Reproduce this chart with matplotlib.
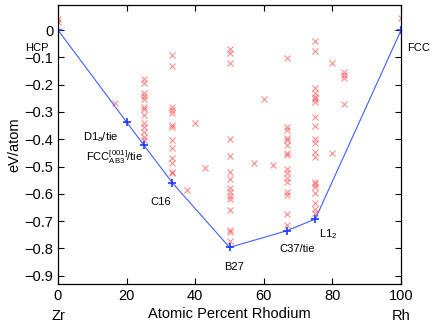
import matplotlib
matplotlib.use('Agg')
import matplotlib.pyplot as plt
import numpy as np

plt.rcParams['font.family'] = ['Liberation Sans', 'DejaVu Sans']

# all computed structures (red x)
x_all = ([0, 0, 16.7] +
         [25] * 13 +
         [33.3] * 13 +
         [37.5, 40, 42.9] +
         [50] * 15 +
         [57.2, 60, 62.6] +
         [66.7] * 16 +
         [75] * 20 +
         [80, 80] +
         [83.3] * 4 +
         [100])
e_all = ([0.040, 0.030, -0.266] +
         [-0.181, -0.193, -0.232, -0.242, -0.254, -0.281, -0.290, -0.311,
          -0.342, -0.354, -0.372, -0.391, -0.403] +
         [-0.092, -0.132, -0.281, -0.293, -0.305, -0.348, -0.354, -0.403,
          -0.433, -0.470, -0.486, -0.519, -0.525] +
         [-0.586, -0.340, -0.507] +
         [-0.071, -0.083, -0.122, -0.400, -0.462, -0.519, -0.545, -0.580,
          -0.592, -0.606, -0.620, -0.659, -0.733, -0.740, -0.772] +
         [-0.486, -0.254, -0.495] +
         [-0.104, -0.354, -0.366, -0.394, -0.403, -0.421, -0.452, -0.458,
          -0.510, -0.525, -0.543, -0.556, -0.592, -0.604, -0.674, -0.714] +
         [-0.039, -0.076, -0.214, -0.232, -0.244, -0.254, -0.263, -0.320,
          -0.352, -0.400, -0.412, -0.445, -0.464, -0.556, -0.564, -0.574,
          -0.596, -0.635, -0.656, -0.671] +
         [-0.120, -0.449] +
         [-0.153, -0.165, -0.177, -0.271] +
         [0.043])

# convex hull (blue)
x_hull = [0, 20, 25, 33.3, 50, 66.7, 75, 100]
e_hull = [0, -0.337, -0.421, -0.559, -0.796, -0.735, -0.692, 0]

# labels
lab_text = ['HCP', 'D1$_\\mathregular{a}$/tie', 'FCC$^{\\mathregular{[001]}}_{\\mathregular{AB3}}$/tie',
            'C16', 'B27', 'C37/tie', 'L1$_\\mathregular{2}$', 'FCC']
lab_x = [-9.5, 7.3, 8.3, 26.8, 48.4, 64.4, 76, 101.7]
lab_y = [-0.066, -0.392, -0.465, -0.629, -0.867, -0.802, -0.747, -0.067]

fig = plt.figure(figsize=(4.36, 3.24), dpi=100)
ax = fig.add_axes([0.133, 0.1235, 0.787, 0.861])

ax.plot(x_all, e_all, 'x', color='#ff3030', alpha=0.55, ms=4.5, mew=0.8)
ax.plot(x_hull, e_hull, '-', color='#4060ff', lw=0.8)
ax.plot(x_hull, e_hull, '+', color='#1a3aff', ms=6, mew=1.2)

for t, xx, yy in zip(lab_text, lab_x, lab_y):
    ax.text(xx, yy, t, fontsize=8, ha='left', va='center', clip_on=False)

ax.set_xlim(0, 100)
ax.set_ylim(-0.93, 0.0916)
ax.set_xticks(np.arange(0, 101, 20))
ax.set_yticks(np.round(np.arange(-0.9, 0.01, 0.1), 1))
ax.set_yticklabels(['\u22120.9', '\u22120.8', '\u22120.7', '\u22120.6', '\u22120.5',
                    '\u22120.4', '\u22120.3', '\u22120.2', '\u22120.1', '0'])
ax.tick_params(direction='in', top=True, right=True, labelsize=10.5, length=4, width=0.8)
for s in ax.spines.values():
    s.set_linewidth(0.9)

ax.set_ylabel('eV/atom', fontsize=10.5, labelpad=2)
ax.set_xlabel('Atomic Percent Rhodium', fontsize=10.5, labelpad=3)
fig.text(58 / 436, 1 - 316 / 324, 'Zr', fontsize=10.5, ha='center', va='center')
fig.text(401 / 436, 1 - 316 / 324, 'Rh', fontsize=10.5, ha='center', va='center')

plt.savefig('out.png', dpi=100)
